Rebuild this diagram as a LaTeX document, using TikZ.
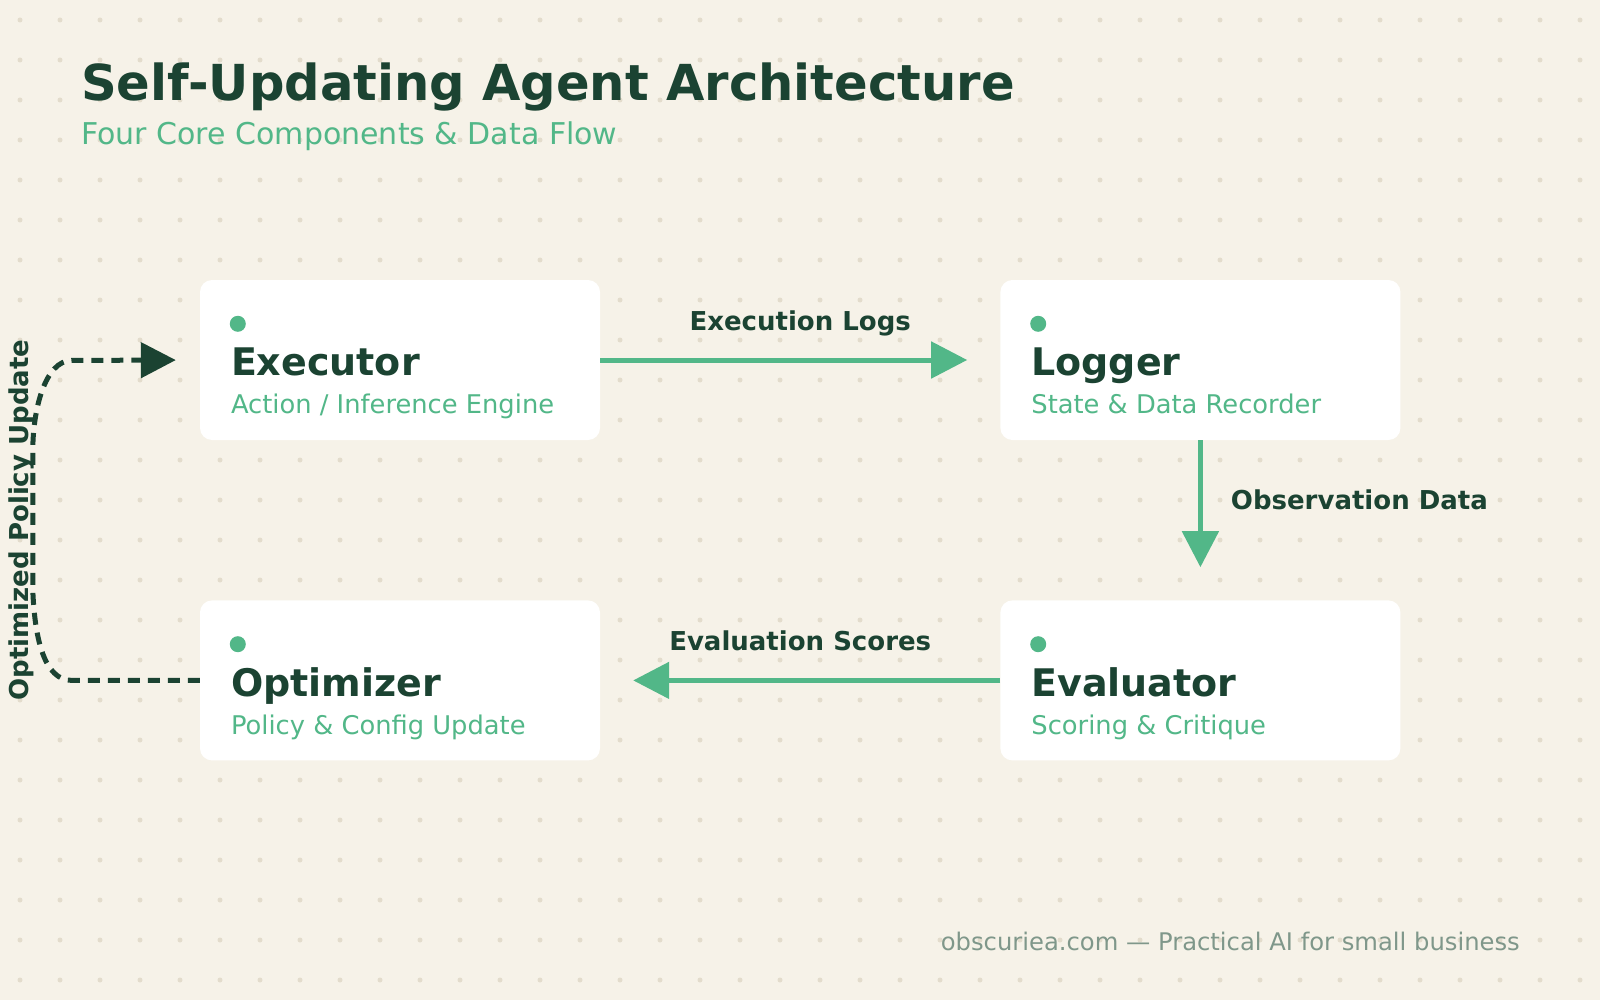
\documentclass[tikz,border=0pt]{standalone}
\usepackage{fontspec}
\setmainfont{DejaVu Sans}
\usetikzlibrary{arrows.meta,positioning}

\definecolor{ink}{HTML}{1B4332}
\definecolor{leaf}{HTML}{52B788}
\definecolor{paper}{HTML}{F6F2E8}
\definecolor{speck}{HTML}{E3DCCC}
\definecolor{muted}{HTML}{7F978A}

\tikzset{%
  card/.style     = {fill=white, rounded corners=12pt, minimum width=400pt,
    minimum height=160pt, inner sep=0pt},
  pip/.style      = {fill=leaf}, % dot on each card
  flow/.style     = {draw=leaf, line width=5pt, shorten >=33pt,
    -{Triangle[length=36pt,width=36pt]}},
  feedback/.style = {draw=ink, line width=5pt, dash pattern=on 12pt off 8pt,
    shorten >=24pt, -{Triangle[length=35pt,width=35pt]}},
  flowtext/.style = {text=ink, font=\edgefont, inner sep=0pt}
}
\newcommand{\hdfont}{\fontsize{49.6}{58}\selectfont\bfseries}
\newcommand{\subhdfont}{\fontsize{30}{35}\selectfont}
\newcommand{\cardfont}{\fontsize{38}{44}\selectfont\bfseries}
\newcommand{\cardsubfont}{\fontsize{25.75}{30}\selectfont}
\newcommand{\edgefont}{\fontsize{26}{31}\selectfont\bfseries}
\newcommand{\footfont}{\fontsize{24.25}{29}\selectfont}

\begin{document}
\begin{tikzpicture}[x=1pt, y=-1pt]
	% Paper and dot grid
	\fill[paper] (0,0) rectangle (1600,1000);
	\foreach \x in {20,60,...,1580}
		\foreach \y in {20,60,...,980}
			\fill[speck] (\x,\y) circle (2.5pt);
	\useasboundingbox (0,0) rectangle (1600,1000);
	% Heading
\draw
	node at (81,101) [anchor=base west, inner sep=0pt, text=ink] (head)
		{\hdfont Self-Updating Agent Architecture}
	node at (81,145) [anchor=base west, inner sep=0pt, text=leaf] (subhead)
		{\subhdfont Four Core Components \& Data Flow};
	% Drawing the four cards
\draw
	node at (400,360) [card] (exec) {}
	node [card, right=400pt of exec] (logger) {}
	node [card, below=160pt of logger] (eval) {}
	node [card, below=160pt of exec] (optim) {};
	% Dot, name and role inside each card
	\foreach \nm/\ttl/\role in {exec/Executor/{Action / Inference Engine},
		logger/Logger/{State \& Data Recorder},
		eval/Evaluator/{Scoring \& Critique},
		optim/Optimizer/{Policy \& Config Update}}
	{
		\fill[pip] ([shift={(38,44)}]\nm.north west) circle (8pt);
		\node [anchor=base west, inner sep=0pt, text=ink]
			at ([shift={(31,96)}]\nm.north west) (\nm-name) {\cardfont \ttl};
		\node [anchor=base west, inner sep=0pt, text=leaf]
			at ([shift={(31,134)}]\nm.north west) (\nm-role) {\cardsubfont \role};
	}
	% Joining the cards
	\draw[flow] (exec) -- node[flowtext, midway, anchor=base, yshift=30pt] (logs)
		{Execution Logs} (logger);
	\draw[flow] (logger) -- node[flowtext, midway, anchor=base west, xshift=28pt,
		yshift=11pt] (obs) {Observation Data} (eval);
	\draw[flow] (eval) -- node[flowtext, midway, anchor=base, yshift=30pt] (scores)
		{Evaluation Scores} (optim);
	% Feedback loop back to the executor
	\draw[feedback] (optim.west) -- ++(-128,0)
		.. controls +(-27,0) and +(2,50) .. ++(-39,-90) -- ++(0,-140)
		.. controls +(0,-40) and +(-27,0) .. ++(39,-90) -- (exec.west);
	\node[flowtext, rotate=90] at (21,520) (policy) {Optimized Policy Update};
	% Footer
	\node at (1520,950) [anchor=base east, inner sep=0pt, text=muted] (foot)
		{\footfont obscuriea.com — Practical AI for small business};
\end{tikzpicture}
\end{document}
